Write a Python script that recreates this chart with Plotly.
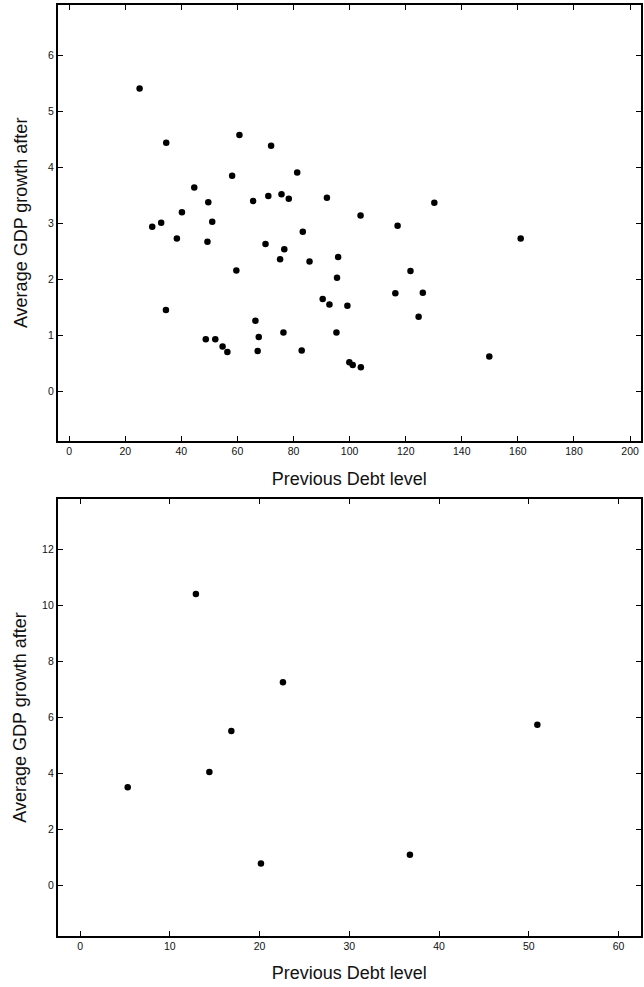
import plotly.graph_objects as go

# Top panel data
debt_top = [25.1, 34.6, 60.7, 72.0, 81.3, 58.1, 44.6, 49.6, 65.6, 71.0,
            75.7, 78.3, 91.9, 40.2, 32.8, 29.6, 51.0, 38.4, 49.3, 70.0,
            83.3, 76.7, 95.9, 75.2, 85.7, 59.6, 95.5, 34.5, 90.4, 92.8,
            66.4, 48.7, 52.1, 54.7, 56.4, 67.6, 67.2, 76.4, 82.9, 95.3,
            103.9, 130.2, 117.1, 161.0, 121.7, 99.2, 116.3, 126.1, 124.6, 99.9,
            101.1, 104.0, 149.8]
growth_top = [5.41, 4.44, 4.58, 4.39, 3.91, 3.85, 3.64, 3.38, 3.40, 3.49,
              3.52, 3.44, 3.46, 3.20, 3.01, 2.94, 3.03, 2.73, 2.67, 2.63,
              2.85, 2.54, 2.40, 2.36, 2.32, 2.16, 2.03, 1.45, 1.65, 1.55,
              1.26, 0.93, 0.93, 0.80, 0.70, 0.97, 0.72, 1.05, 0.73, 1.05,
              3.14, 3.37, 2.96, 2.73, 2.15, 1.53, 1.75, 1.76, 1.33, 0.52,
              0.47, 0.43, 0.62]

# Bottom panel data
debt_bot = [5.3, 12.9, 14.4, 16.85, 20.15, 22.6, 36.75, 50.95]
growth_bot = [3.50, 10.40, 4.04, 5.51, 0.78, 7.25, 1.09, 5.73]

x_title = "Previous Debt level"
y_title = "Average GDP growth after"

top_xticks = [0, 20, 40, 60, 80, 100, 120, 140, 160, 180, 200]
top_yticks = [0, 1, 2, 3, 4, 5, 6]
bot_xticks = [0, 10, 20, 30, 40, 50, 60]
bot_yticks = [0, 2, 4, 6, 8, 10, 12]

W, H = 644, 987
FONT = "Liberation Sans, Arial, Helvetica, sans-serif"

fig = go.Figure()
marker = dict(color="black", size=6.5, line=dict(width=0))
fig.add_trace(go.Scatter(x=debt_top, y=growth_top, mode="markers", marker=marker,
                         xaxis="x", yaxis="y", showlegend=False))
fig.add_trace(go.Scatter(x=debt_bot, y=growth_bot, mode="markers", marker=marker,
                         xaxis="x2", yaxis="y2", showlegend=False))

def ax(rng, ticks, domain, anchor, title, standoff):
    return dict(
        range=rng, domain=domain, anchor=anchor,
        tickmode="array", tickvals=ticks, ticktext=[str(t) for t in ticks],
        ticks="inside", ticklen=5, tickwidth=1, tickcolor="black",
        showline=True, linecolor="black", linewidth=1.6, mirror="allticks",
        showgrid=False, zeroline=False, automargin=False,
        tickfont=dict(family=FONT, size=10.5, color="#111"),
        title=dict(text=title, standoff=standoff,
                   font=dict(family=FONT, size=18, color="#111")),
    )

xd = [57.7 / W, 641.0 / W]
fig.update_layout(
    width=W, height=H,
    margin=dict(l=0, r=0, t=0, b=0),
    paper_bgcolor="white", plot_bgcolor="white",
    xaxis=ax([-4.1, 203.9], top_xticks, xd, "y", x_title, 16),
    yaxis=ax([-0.89, 6.91], top_yticks, [1 - 441 / H, 1 - 4.7 / H], "x", y_title, 16),
    xaxis2=ax([-2.5, 62.5], bot_xticks, xd, "y2", x_title, 15),
    yaxis2=ax([-1.8, 13.78], bot_yticks, [1 - 935.7 / H, 1 - 499.3 / H], "x2", y_title, 11),
)

fig.write_html("out.html", config={"displayModeBar": False},
               post_script="document.body.style.margin='0';")
